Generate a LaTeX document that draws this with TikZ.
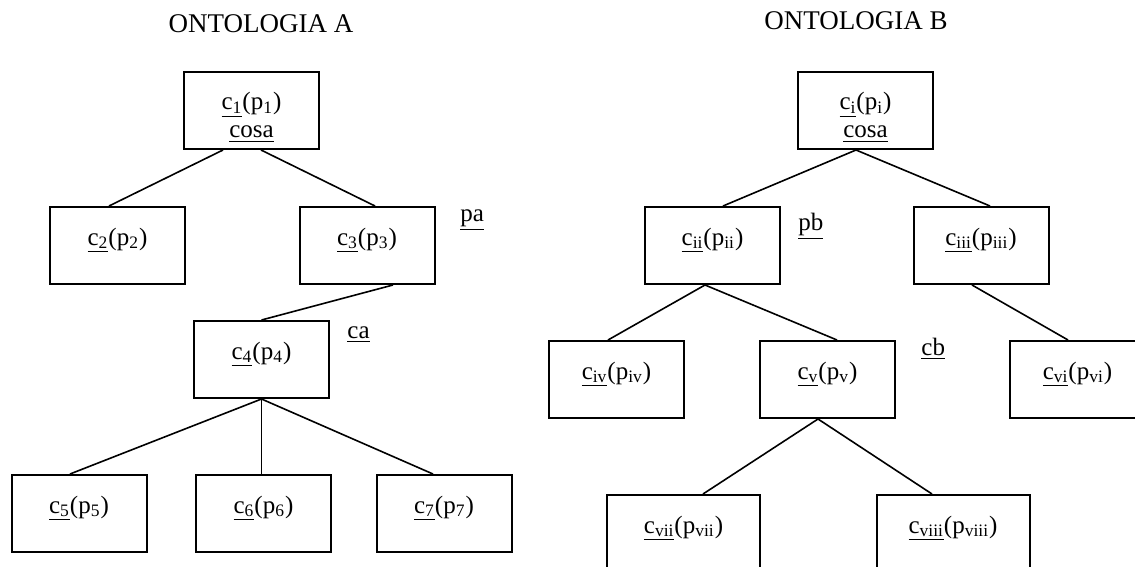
\documentclass[tikz,border=0pt]{standalone}
\usepackage{fontspec}
\setmainfont{Liberation Serif}
\usetikzlibrary{%
  calc,
}
\newcommand{\cpair}[1]{\underline{c\textsubscript{#1}}(p\textsubscript{#1})}

\begin{document}
\begin{tikzpicture}[%
           x=0.5pt, y=-0.5pt,
           concept/.style={
             % The shape:
             rectangle,
             % The size:
             minimum width=67.5pt,
             minimum height=38.5pt,
             inner sep=0pt,
             % the text sits in the upper half of the box
             text height=19pt,
             text depth=19.5pt,
             % The border:
             draw=black,
             line width=1pt,
             font=\fontsize{12.5}{14}\selectfont,
           },
           widebox/.style={
             minimum width=76.5pt,
           },
           title/.style={
             font=\fontsize{13.5}{16}\selectfont,
             anchor=base,
           },
           tag/.style={
             font=\fontsize{12.5}{14}\selectfont,
             anchor=base west,
             inner sep=0pt,
           },
           link/.style={
             line width=0.8pt,
             color=black,
           }]

         \useasboundingbox (0,0) rectangle (1135,567);
         \clip (0,0) rectangle (1135,567);

         % Ontologia A
         \node[title] (titleA) at (261,33) {ONTOLOGIA A};
         \node[concept] (c1) at (251.5,110.5)
           {\begin{tabular}[t]{@{}c@{}}\cpair{1}\\\underline{cosa}\end{tabular}};
         \node[concept] (c2) at (117.5,245.5) {\cpair{2}};
         \node[concept] (c3) at (367,245.5) {\cpair{3}};
         \node[concept] (c4) at (261.5,359.5) {\cpair{4}};
         \node[concept] (c5) at (79,513.5) {\cpair{5}};
         \node[concept] (c6) at (263.5,513.5) {\cpair{6}};
         \node[concept] (c7) at (444,513.5) {\cpair{7}};
         \node[tag] (pa) at (460,221) {\underline{pa}};
         \node[tag] (ca) at (347,338) {\underline{ca}};

         \draw[link] ($ (c1.south) + (-28.5, 0) $) -- ($ (c2.north) + (-8.5, 0) $);
         \draw[link] ($ (c1.south) + (9.5, 0) $) -- ($ (c3.north) + (8, 0) $);
         \draw[link] ($ (c3.south) + (26, 0) $) -- (c4.north);
         \draw[link] (c4.south) -- ($ (c5.north) + (-9, 0) $);
         \draw[link] (c4.south) -- ($ (c6.north) + (-2, 0) $);
         \draw[link] (c4.south) -- ($ (c7.north) + (-11, 0) $);

         % Ontologia B
         \node[title] (titleB) at (856,30) {ONTOLOGIA B};
         \node[concept] (ci) at (865.5,110.5)
           {\begin{tabular}[t]{@{}c@{}}\cpair{i}\\\underline{cosa}\end{tabular}};
         \node[concept] (cii) at (712.5,245.5) {\cpair{ii}};
         \node[concept] (ciii) at (981,245.5) {\cpair{iii}};
         \node[concept] (civ) at (616.5,379.5) {\cpair{iv}};
         \node[concept] (cv) at (827.5,379.5) {\cpair{v}};
         \node[concept] (cvi) at (1077.5,379.5) {\cpair{vi}};
         \node[concept, widebox] (cvii) at (683.5,533.5) {\cpair{vii}};
         \node[concept, widebox] (cviii) at (953,533.5) {\cpair{viii}};
         \node[tag] (pb) at (798,230) {\underline{pb}};
         \node[tag] (cb) at (921,355) {\underline{cb}};

         \draw[link] ($ (ci.south) + (-9.5, 0) $) -- ($ (cii.north) + (10.5, 0) $);
         \draw[link] ($ (ci.south) + (-9.5, 0) $) -- ($ (ciii.north) + (9, 0) $);
         \draw[link] ($ (cii.south) + (-7.5, 0) $) -- ($ (civ.north) + (-8.5, 0) $);
         \draw[link] ($ (cii.south) + (-7.5, 0) $) -- ($ (cv.north) + (9.5, 0) $);
         \draw[link] ($ (ciii.south) + (-9, 0) $) -- ($ (cvi.north) + (-9.5, 0) $);
         \draw[link] ($ (cv.south) + (-9.5, 0) $) -- ($ (cvii.north) + (19.5, 0) $);
         \draw[link] ($ (cv.south) + (-9.5, 0) $) -- ($ (cviii.north) + (-21, 0) $);

     \end{tikzpicture}
\end{document}
